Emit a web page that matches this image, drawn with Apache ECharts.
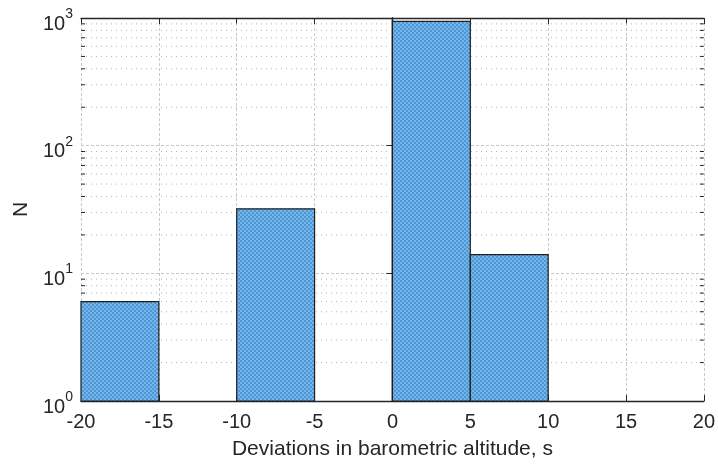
<!DOCTYPE html>
<html><head><meta charset="utf-8">
<script src="https://cdn.jsdelivr.net/npm/echarts@6/dist/echarts.min.js"></script>
<style>html,body{margin:0;padding:0;background:#fff}#c{width:718px;height:466px}</style>
</head><body><div id="c"></div>
<script>
const binEdges = [-20, -15, -10, -5, 0, 5, 10, 15, 20];
const counts = [6, 0, 32, 0, 940, 14, 0, 0];
const xTicks = [-20, -15, -10, -5, 0, 5, 10, 15, 20];
const yDecades = [1, 10, 100, 1000];
const xLabel = 'Deviations in barometric altitude, s';
const yLabel = 'N';

const minorVals = [];
for (let i = 0; i < yDecades.length - 1; i++) for (let k = 2; k <= 9; k++) minorVals.push(yDecades[i] * k);

const bars = [];
for (let i = 0; i < counts.length; i++) if (counts[i] > 0) bars.push([binEdges[i], binEdges[i + 1], counts[i]]);

// checkered hatch texture for bar fill
const pc = document.createElement('canvas');
pc.width = 4; pc.height = 4;
const g = pc.getContext('2d');
g.fillStyle = '#74b6ea'; g.fillRect(0, 0, 4, 4);
g.fillStyle = '#4f96d4'; g.fillRect(0, 0, 2, 2); g.fillRect(2, 2, 2, 2);
const barFill = {image: pc, repeat: 'repeat'};

const font = 'Liberation Sans, Arial, sans-serif';
const chart = echarts.init(document.getElementById('c'));
const axisLine = {show: true, lineStyle: {color: '#262626', width: 1.4}};
chart.setOption({
  animation: false,
  grid: {left: 81, right: 12, top: 18, bottom: 65, containLabel: false},
  xAxis: [{
    type: 'value', min: xTicks[0], max: xTicks[xTicks.length - 1], interval: 5, position: 'bottom',
    axisLine, axisTick: {inside: true, length: 6, lineStyle: {color: '#262626'}},
    axisLabel: {color: '#262626', fontSize: 20, fontFamily: font, margin: 11},
    splitLine: {show: true, lineStyle: {color: '#c8c8c8', type: [3, 2], width: 1}},
    name: xLabel, nameLocation: 'middle', nameGap: 38,
    nameTextStyle: {color: '#262626', fontSize: 21, fontFamily: font}
  }, {
    type: 'value', min: xTicks[0], max: xTicks[xTicks.length - 1], interval: 5, position: 'top',
    axisLine, axisTick: {inside: true, length: 6, lineStyle: {color: '#262626'}},
    axisLabel: {show: false}, splitLine: {show: false}
  }],
  yAxis: [{
    type: 'log', logBase: 10, min: yDecades[0], max: yDecades[yDecades.length - 1], position: 'left',
    axisLine, axisTick: {inside: true, length: 6, lineStyle: {color: '#262626'}},
    axisLabel: {
      color: '#262626', fontFamily: font, margin: 8,
      formatter: v => '{b|10}{s|' + Math.round(Math.log10(v)) + '}',
      rich: {b: {fontSize: 20, fontFamily: font, color: '#262626', padding: [12, 0, 0, 0]},
             s: {fontSize: 14, fontFamily: font, color: '#262626', padding: [0, 0, 8, 0]}}
    },
    splitLine: {show: true, lineStyle: {color: '#c8c8c8', type: [3, 2], width: 1}},
    name: yLabel, nameLocation: 'middle', nameGap: 47, nameRotate: 90,
    nameTextStyle: {color: '#262626', fontSize: 21, fontFamily: font}
  }, {
    type: 'log', logBase: 10, min: yDecades[0], max: yDecades[yDecades.length - 1], position: 'right',
    axisLine, axisTick: {inside: true, length: 6, lineStyle: {color: '#262626'}},
    axisLabel: {show: false}, splitLine: {show: false}
  }],
  series: [{
    type: 'custom', coordinateSystem: 'cartesian2d', z: 1, silent: true,
    data: minorVals.map(v => [xTicks[0], v]),
    renderItem: (params, api) => {
      const v = api.value(1);
      const p0 = api.coord([xTicks[0], v]);
      const p1 = api.coord([xTicks[xTicks.length - 1], v]);
      return {type: 'group', children: [
        {type: 'line', shape: {x1: p0[0], y1: p0[1], x2: p1[0], y2: p1[1]},
         style: {stroke: '#b4b4b4', lineWidth: 1, lineDash: [1, 4]}},
        {type: 'line', shape: {x1: p0[0], y1: p0[1], x2: p0[0] + 4, y2: p0[1]},
         style: {stroke: '#262626', lineWidth: 1}},
        {type: 'line', shape: {x1: p1[0], y1: p1[1], x2: p1[0] - 4, y2: p1[1]},
         style: {stroke: '#262626', lineWidth: 1}}
      ]};
    }
  }, {
    type: 'custom', coordinateSystem: 'cartesian2d', z: 2, silent: true,
    data: bars,
    encode: {x: [0, 1], y: 2},
    renderItem: (params, api) => {
      const a = api.coord([api.value(0), api.value(2)]);
      const b = api.coord([api.value(1), yDecades[0]]);
      return {type: 'rect', shape: {x: a[0], y: a[1], width: b[0] - a[0], height: b[1] - a[1]},
        style: {fill: barFill, stroke: '#1f1f1f', lineWidth: 1.2}};
    }
  }]
});
</script></body></html>
